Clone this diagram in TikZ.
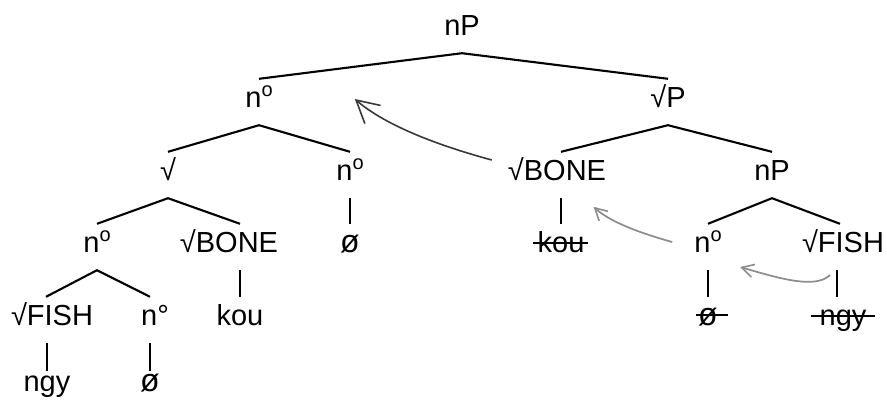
\documentclass[tikz,border=0pt]{standalone}
\usepackage{fontspec}
\setmainfont{Liberation Sans}
\usetikzlibrary{arrows.meta}
\newcommand\supo{\raisebox{11pt}{\fontsize{20}{20}\selectfont o}}
\newcommand\nullset{{\fontsize{32}{34}\selectfont ø}}
\begin{document}
\begin{tikzpicture}[x=1pt,y=-1pt,
  tn/.style={anchor=base, inner sep=0pt, text height=28pt, text depth=18pt,
             font=\fontsize{29}{34}\selectfont},
  br/.style={line width=2.1pt, black},
  strk/.style={line width=1.6pt, black},
  mvdark/.style={line width=1.6pt, draw=black!78,
                 -{Straight Barb[length=22pt,width=24pt,line width=1.6pt]}},
  mvlight/.style={line width=1.7pt, draw=black!45,
                 -{Straight Barb[length=12pt,width=13pt,line width=1.6pt]}},
  ]
\useasboundingbox (0,0) rectangle (887,405);
% level 0
\node[tn] (np0) at (462,35) {nP};
% level 1
\node[tn] (n1) at (259,107) {n\supo};
\node[tn] (rp1) at (668,107) {√P};
% level 2
\node[tn] (r2) at (168,180) {√};
\node[tn] (n2) at (350,180) {n\supo};
\node[tn] (bone2) at (557,180) {√BONE};
\node[tn] (np2) at (772,180) {nP};
% level 3
\node[tn] (n3) at (97,252) {n\supo};
\node[tn] (bone3) at (229,252) {√BONE};
\node[tn] (null3) at (350,252) {\nullset};
\node[tn] (kouS) at (561,252) {kou};
\node[tn] (n3r) at (708,252) {n\supo};
\node[tn] (fish3r) at (843,252) {√FISH};
% level 4
\node[tn] (fish4) at (52,325) {√FISH};
\node[tn] (n4) at (155,325) {n°};
\node[tn] (kou4) at (240,325) {kou};
\node[tn] (nullS) at (708,325) {\nullset};
\node[tn] (ngyS) at (843,325) {ngy};
% level 5
\node[tn] (ngy5) at (47,391) {ngy};
\node[tn] (null5) at (150,391) {\nullset};

% branches
\draw[br] (n1.north) -- (np0.south) -- (rp1.north);
\draw[br] (r2.north) -- (n1.south) -- (n2.north);
\draw[br] ([xshift=4pt]bone2.north) -- (rp1.south) -- (np2.north);
\draw[br] (n3.north) -- (r2.south) -- ([xshift=11pt]bone3.north);
\draw[br] (n2.south) -- (null3.north);
\draw[br] ([xshift=4pt]bone2.south) -- (kouS.north);
\draw[br] (n3r.north) -- (np2.south) -- ([xshift=-3pt]fish3r.north);
\draw[br] (n3r.south) -- (nullS.north);
\draw[br] ([xshift=-6pt]fish3r.south) -- ([xshift=-6pt]ngyS.north);
\draw[br] ([xshift=-6pt]fish4.north) -- (n3.south) -- ([xshift=-5pt]n4.north);
\draw[br] ([xshift=11pt]bone3.south) -- (kou4.north);
\draw[br] ([xshift=-5pt]fish4.south) -- ([yshift=-8pt]ngy5.north);
\draw[br] ([xshift=-5pt]n4.south) -- ([yshift=-8pt]null5.north);

% strike-throughs
\draw[strk] ([shift={(-4,-9)}]kouS.base west) -- ([shift={(3,-9)}]kouS.base east);
\draw[strk] ([shift={(-2,-10)}]nullS.base west) -- ([shift={(10,-10)}]nullS.base east);
\draw[strk] ([shift={(-8,-9)}]ngyS.base west) -- ([shift={(8,-9)}]ngyS.base east);

% movement arrows
\draw[mvdark] ([shift={(-16,-20)}]bone2.base west)
  .. controls (440,146) and (386,126) .. ([shift={(82,-8)}]n1.base east);
\draw[mvlight] ([shift={(-22,-10)}]n3r.base west)
  .. controls (640,233) and (610,222) .. ([shift={(9,-17)}]kouS.north east);
\draw[mvlight] ([shift={(-13,23)}]fish3r.base)
  .. controls (815,290) and (775,277) .. ([shift={(32,15)}]n3r.base);
\end{tikzpicture}
\end{document}
